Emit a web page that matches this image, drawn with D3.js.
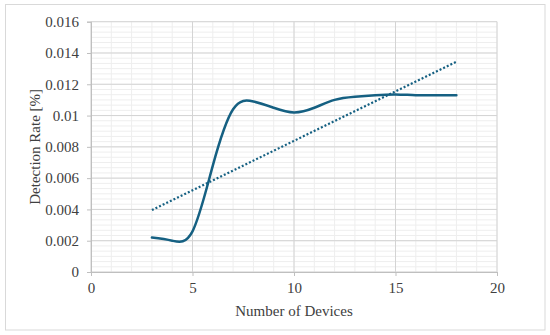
<!DOCTYPE html>
<html><head><meta charset="utf-8">
<script src="https://cdn.jsdelivr.net/npm/d3@7"></script>
<style>
html,body{margin:0;padding:0;background:#fff;}
svg{display:block;}
text{font-family:"Liberation Serif","Times New Roman",serif;fill:#404040;}
</style></head>
<body>
<svg id="chart" width="550" height="335"></svg>
<script>
// Data
const devices = [3,4,5,6,7,8,9,10,11,12,13,14,15,16,17,18];
const detectionRate = [0.0022,0.0020,0.0026,0.0068,0.0104,0.0109,0.0105,0.0102,0.0105,0.0110,0.0112,0.0113,0.01135,0.0113,0.0113,0.0113];
const trendX = [3,18];
const trendY = [0.00396,0.01344];
const xTicks = [0,5,10,15,20];
const yTicks = [0,0.002,0.004,0.006,0.008,0.01,0.012,0.014,0.016];
const yTickLabels = ["0","0.002","0.004","0.006","0.008","0.01","0.012","0.014","0.016"];
const xTitle = "Number of Devices";
const yTitle = "Detection Rate [%]";

const svg = d3.select("#chart");
const W = 550, H = 335;
const m = {left:91, right:53, top:21.7, bottom:63};
const x = d3.scaleLinear().domain([0,20]).range([m.left, W-m.right]);
const y = d3.scaleLinear().domain([0,0.016]).range([H-m.bottom, m.top]);
const color = "#156082";

// outer border
svg.append("rect").attr("x",5.5).attr("y",4.5).attr("width",539.5).attr("height",325.5)
  .attr("fill","#fff").attr("stroke","#d9d9d9").attr("stroke-width",1);

const g = svg.append("g");
// minor gridlines
const xMinor = d3.range(0,20.001,1);
const yMinor = d3.range(0,0.016+1e-9,0.002/6);
g.selectAll("line.xm").data(xMinor).enter().append("line")
  .attr("x1",d=>x(d)).attr("x2",d=>x(d)).attr("y1",y(0)).attr("y2",y(0.016))
  .attr("stroke","#eeeeee").attr("stroke-width",1);
g.selectAll("line.ym").data(yMinor).enter().append("line")
  .attr("x1",x(0)).attr("x2",x(20)).attr("y1",d=>y(d)).attr("y2",d=>y(d))
  .attr("stroke","#eeeeee").attr("stroke-width",1);
// major gridlines
g.selectAll("line.xM").data(xTicks).enter().append("line")
  .attr("x1",d=>x(d)).attr("x2",d=>x(d)).attr("y1",y(0)).attr("y2",y(0.016))
  .attr("stroke","#d4d4d4").attr("stroke-width",1);
g.selectAll("line.yM").data(yTicks).enter().append("line")
  .attr("x1",x(0)).attr("x2",x(20)).attr("y1",d=>y(d)).attr("y2",d=>y(d))
  .attr("stroke","#d4d4d4").attr("stroke-width",1);

// axes
const xAxis = d3.axisBottom(x).tickValues(xTicks).tickSize(4).tickPadding(6).tickFormat(d3.format("d"));
const yAxis = d3.axisLeft(y).tickValues(yTicks).tickSize(4).tickPadding(8).tickFormat((d,i)=>yTickLabels[i]);
const gx = svg.append("g").attr("transform",`translate(0,${y(0)})`).call(xAxis);
const gy = svg.append("g").attr("transform",`translate(${x(0)},0)`).call(yAxis);
[gx,gy].forEach(a=>{
  a.attr("font-family",null);
  a.selectAll("path.domain").attr("stroke","#bfbfbf");
  a.selectAll(".tick line").attr("stroke","#bfbfbf");
  a.selectAll(".tick text").attr("fill","#404040").style("font-size","15px")
    .style("font-family","'Liberation Serif','Times New Roman',serif");
});

// trendline
const trend = trendX.map((d,i)=>[d,trendY[i]]);
svg.append("path").datum(trend)
  .attr("d", d3.line().x(d=>x(d[0])).y(d=>y(d[1])))
  .attr("fill","none").attr("stroke",color).attr("stroke-width",2.2)
  .attr("stroke-dasharray","2,2");

// main smoothed line
const pts = devices.map((d,i)=>[d,detectionRate[i]]);
svg.append("path").datum(pts)
  .attr("d", d3.line().curve(d3.curveNatural).x(d=>x(d[0])).y(d=>y(d[1])))
  .attr("fill","none").attr("stroke",color).attr("stroke-width",2.5)
  .attr("stroke-linecap","round").attr("stroke-linejoin","round");

// titles
svg.append("text").attr("x",x(10)).attr("y",316).attr("text-anchor","middle")
  .style("font-size","15px").text(xTitle);
svg.append("text").attr("transform",`translate(40,${(y(0)+y(0.016))/2}) rotate(-90)`)
  .attr("text-anchor","middle").style("font-size","15px").text(yTitle);
</script>
</body></html>
